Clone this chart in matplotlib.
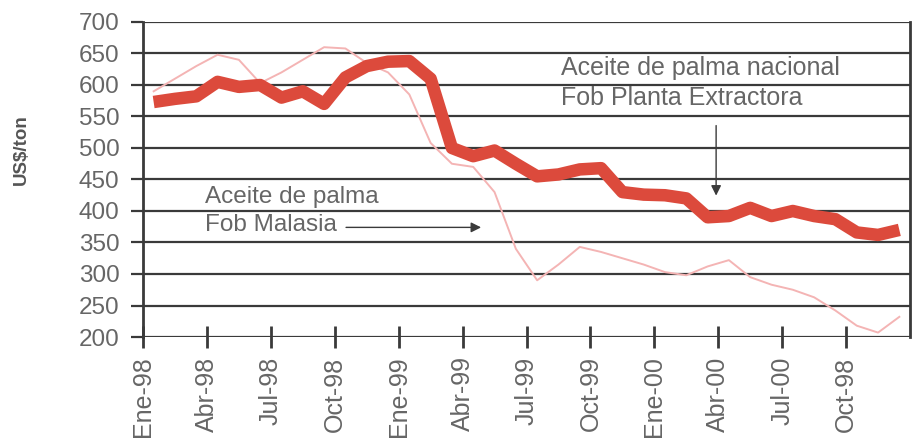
import matplotlib
matplotlib.use("Agg")
import matplotlib.pyplot as plt
import numpy as np

plt.rcParams['font.family'] = ['Liberation Sans', 'DejaVu Sans']

# month positions (mid-month, months since Ene-98)
months = [0.5, 1.5, 2.5, 3.5, 4.5, 5.5, 6.5, 7.5, 8.5, 9.5, 10.5, 11.5,
          12.5, 13.5, 14.5, 15.5, 16.5, 17.5, 18.5, 19.5, 20.5, 21.5, 22.5, 23.5,
          24.5, 25.5, 26.5, 27.5, 28.5, 29.5, 30.5, 31.5, 32.5, 33.5, 34.5, 35.5]

nacional = [573, 578, 582, 605, 597, 600, 580, 590, 570, 612, 630, 637,
            638, 610, 500, 487, 496, 475, 455, 458, 466, 468, 430, 426,
            425, 420, 390, 392, 405, 392, 400, 392, 387, 366, 362, 370]

malasia = [590, 610, 630, 648, 640, 603, 620, 640, 660, 658, 635, 620,
           585, 508, 475, 470, 430, 340, 290, 315, 343, 335, 325, 315,
           303, 298, 312, 322, 295, 283, 275, 263, 242, 218, 207, 232]

tick_pos = [0, 3, 6, 9, 12, 15, 18, 21, 24, 27, 30, 33]
tick_labels = ['Ene-98', 'Abr-98', 'Jul-98', 'Oct-98', 'Ene-99', 'Abr-99',
               'Jul-99', 'Oct-99', 'Ene-00', 'Abr-00', 'Jul-00', 'Oct-98']
y_ticks = [200, 250, 300, 350, 400, 450, 500, 550, 600, 650, 700]

fig = plt.figure(figsize=(9.15, 4.46), dpi=100)
ax = fig.add_axes([143/915, 1-337/446, (910-143)/915, (337-22)/446])

for yv in y_ticks:
    ax.axhline(yv, color='#3a3a3a', lw=1.6, zorder=1)

ax.plot(months, malasia, color='#f4b4b4', lw=1.4, zorder=2)
ax.plot(months, nacional, color='#dc4a3c', lw=9, solid_joinstyle='round',
        solid_capstyle='butt', zorder=3)

ax.set_xlim(0, 36)
ax.set_ylim(200, 700)
ax.set_xticks(tick_pos)
ax.set_xticklabels(tick_labels, rotation=90, fontsize=18, color='#666666')
ax.set_yticks(y_ticks)
ax.set_yticklabels([str(v) for v in y_ticks], fontsize=17.5, color='#666666')
ax.tick_params(axis='x', direction='inout', length=16, width=2, color='#3a3a3a', pad=6)
ax.tick_params(axis='y', direction='out', length=9, width=1.6, color='#3a3a3a', pad=8)

ax.spines['top'].set_visible(False)
ax.spines['bottom'].set_visible(False)
ax.spines['left'].set_color('#3a3a3a')
ax.spines['left'].set_linewidth(2)
ax.spines['right'].set_color('#3a3a3a')
ax.spines['right'].set_linewidth(2)

ax.set_ylabel('US$/ton', fontsize=13.5, fontweight='bold', color='#555555')
ax.yaxis.set_label_coords(-0.148, 0.594)

ax.text(2.9, 400, 'Aceite de palma\nFob Malasia', fontsize=17.5, color='#666666',
        va='center', ha='left', linespacing=1.3)
ax.annotate('', xy=(16.0, 374), xytext=(9.4, 374),
            arrowprops=dict(arrowstyle='-|>', color='#3a3a3a', lw=1.0,
                            mutation_scale=15))
ax.text(19.6, 603, 'Aceite de palma nacional\nFob Planta Extractora', fontsize=18,
        color='#666666', va='center', ha='left', linespacing=1.3)
ax.annotate('', xy=(26.9, 420), xytext=(26.9, 540),
            arrowprops=dict(arrowstyle='-|>', color='#3a3a3a', lw=1.0,
                            mutation_scale=15))

fig.savefig('out.png', dpi=100)
